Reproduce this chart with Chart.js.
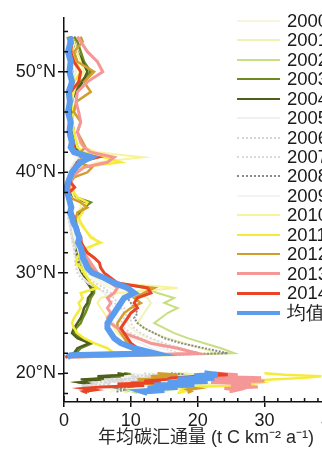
<!DOCTYPE html>
<html>
<head>
<meta charset="utf-8">
<script src="https://cdn.jsdelivr.net/npm/chart.js@4.4.1/dist/chart.umd.min.js"></script>
<style>
  html, body { margin: 0; padding: 0; background: #fff; overflow: hidden; }
  #wrap { position: relative; width: 348px; height: 454px; }
  #legend { position: absolute; left: 237px; top: 11px; font: 18.5px "Liberation Sans", Arial, sans-serif; color: #1a1a1a; }
  .item { height: 19.47px; display: flex; align-items: center; white-space: nowrap; }
  .item .line { display: inline-block; width: 43px; margin-right: 7px; }
</style>
</head>
<body>
<div id="wrap">
  <canvas id="chart" width="348" height="454"></canvas>
  <div id="legend"></div>
</div>
<script>
// latitude rows (°N); the null row splits the mainland block from the Hainan block
const lat = [53.5, 53, 52, 51, 50, 49, 48, 47, 46, 45,
  44, 43, 42.5, 42, 41.5, 41, 40.5, 40, 39.5, 39,
  38.5, 38, 37.5, 37, 36.5, 36, 35.5, 35, 34.5, 34,
  33.5, 33, 32.5, 32, 31.5, 31, 30.5, 30, 29.5, 29,
  28.5, 28, 27.5, 27, 26.5, 26, 25.5, 25, 24.5, 24,
  23.5, 23, 22.5, 22, 21.8, 21.6,
  20.7,
  20.0, 19.85, 19.7, 19.55, 19.4, 19.25, 19.1, 18.95, 18.8, 18.65, 18.5, 18.35, 18.2, 18.05];

// annual carbon sink flux per row (t C km-2 a-1)
const v2000 = [0.4, 0.7, 0.9, 1.1, 1.4, 1.0, 0.8, 0.6, 0.7, 0.6,
  0.7, 0.9, 1.1, 1.4, 2.2, 1.8, 1.3, 0.9, 0.7, 0.5,
  0.4, 0.5, 0.6, 0.8, 0.9, 0.8, 0.8, 1.0, 1.2, 1.2,
  1.4, 1.6, 1.8, 2.0, 2.2, 2.4, 2.6, 3.0, 3.8, 5.0,
  7.0, 8.5, 9.5, 10.0, 10.5, 10.0, 9.5, 9.5, 10.0, 11.0,
  12.5, 14.5, 16.5, 18.5, 9.0, 1.0,
  null,
  13, 15, 12, 14, 10, 12, 9, 10, 8, 9, 7, 8, 7, 7];
const v2001 = [0.6, 0.9, 1.1, 1.4, 1.8, 1.2, 0.9, 0.7, 0.9, 0.7,
  0.9, 1.1, 1.4, 1.8, 3.0, 2.2, 1.6, 1.1, 0.9, 0.6,
  0.5, 0.6, 0.7, 0.9, 1.1, 0.9, 0.9, 1.1, 1.3, 1.2,
  1.4, 1.7, 2.0, 2.2, 2.4, 2.7, 3.0, 3.6, 4.5, 6.0,
  9.0, 11.0, 12.5, 13.0, 12.5, 12.0, 11.5, 11.0, 12.0, 13.5,
  15.5, 18.0, 20.5, 23.0, 12.0, 1.5,
  null,
  15, 18, 14, 17, 13, 15, 11, 12.5, 10, 11, 9, 10, 9, 9.5];
const v2002 = [0.5, 0.8, 1.0, 1.2, 1.5, 1.0, 0.8, 0.6, 0.8, 0.6,
  0.8, 1.0, 1.2, 1.5, 2.5, 2.0, 1.5, 1.0, 0.8, 0.5,
  0.4, 0.5, 0.6, 0.8, 1.0, 0.8, 0.8, 1.0, 1.2, 1.0,
  1.2, 1.5, 1.8, 2.0, 2.2, 2.5, 2.8, 3.5, 5.0, 8.0,
  12.0, 14.0, 16.5, 15.0, 17.0, 15.5, 14.5, 13.5, 15.0, 16.5,
  18.5, 21.0, 23.5, 25.5, 16.0, 2.0,
  null,
  17, 19.5, 16, 18, 14, 16, 13, 14, 12, 13, 11, 12, 10, 11];
const v2003 = [1.5, 2.0, 2.5, 3.0, 4.0, 2.5, 1.5, 1.2, 1.0, 1.2,
  1.5, 1.8, 2.0, 2.2, 3.0, 2.5, 2.0, 1.5, 1.0, 0.8,
  1.0, 1.2, 1.8, 4.0, 3.0, 2.5, 2.0, 1.8, 2.0, 2.2,
  2.5, 2.5, 2.2, 2.0, 2.0, 2.2, 2.4, 2.8, 3.2, 3.8,
  4.5, 4.5, 4.0, 3.8, 3.5, 3.2, 2.8, 2.5, 1.8, 1.5,
  2.5, 4.2, 2.5, 1.8, 1.0, 0.5,
  null,
  9, 10.5, 6, 8.5, 3, 5.5, 2.5, 4, 3.5, 4.5, 3.5, 4, 3.5, 3.5];
const v2004 = [1.0, 1.5, 2.0, 2.8, 3.5, 2.8, 1.8, 1.0, 1.2, 1.0,
  1.2, 1.5, 1.8, 2.0, 2.5, 2.0, 1.8, 1.2, 0.8, 0.6,
  0.8, 1.0, 1.5, 3.5, 3.2, 2.2, 1.8, 1.6, 1.8, 2.0,
  2.2, 2.2, 2.0, 1.8, 1.8, 2.0, 2.2, 2.5, 3.0, 3.5,
  4.0, 4.2, 3.6, 3.5, 3.0, 2.8, 2.5, 2.0, 1.5, 1.2,
  2.0, 3.8, 2.0, 1.5, 0.8, 0.3,
  null,
  8, 9.5, 5, 7, 2.5, 4.5, 2.3, 3.5, 3, 4, 3, 3.5, 3, 3];
const v2005 = [0.5, 0.6, 0.8, 0.9, 1.1, 0.8, 0.6, 0.5, 0.6, 0.5,
  0.6, 0.7, 0.9, 1.1, 2.0, 1.5, 1.0, 0.7, 0.5, 0.4,
  0.3, 0.4, 0.5, 0.6, 0.7, 0.6, 0.7, 0.8, 0.9, 1.0,
  1.1, 1.2, 1.4, 1.5, 1.6, 1.8, 2.0, 2.3, 2.8, 3.6,
  5.0, 6.0, 6.5, 7.0, 7.5, 7.0, 7.0, 7.5, 8.0, 9.0,
  10.0, 11.5, 13.0, 15.0, 5.0, 0.5,
  null,
  10, 12, 9, 11, 6, 8, 4.5, 5.5, 3, 4.5, 3, 4, 3, 3.5];
const v2006 = [0.5, 0.8, 0.8, 1.0, 1.2, 0.9, 0.7, 0.6, 0.6, 0.7,
  0.6, 0.8, 1.0, 1.2, 2.5, 1.8, 1.2, 0.8, 0.6, 0.4,
  0.3, 0.4, 0.5, 0.6, 0.8, 0.7, 0.6, 0.8, 1.0, 1.0,
  1.2, 1.3, 1.5, 1.5, 1.8, 1.6, 1.8, 2.0, 2.5, 3.5,
  5.0, 6.5, 7.5, 8.0, 9.0, 9.5, 9.0, 8.5, 9.0, 10.0,
  11.5, 13.0, 15.0, 17.0, 6.0, 0.5,
  null,
  12, 14, 10, 12, 6, 9, 4, 5, 2.5, 4.5, 2.5, 3.5, 2.5, 3];
const v2007 = [0.7, 0.6, 1.0, 0.8, 1.4, 1.0, 0.6, 0.7, 0.5, 0.8,
  0.7, 0.9, 1.1, 1.4, 3.0, 2.0, 1.4, 0.9, 0.7, 0.5,
  0.4, 0.5, 0.6, 0.7, 0.9, 0.8, 0.7, 0.9, 1.1, 1.2,
  1.3, 1.5, 1.6, 1.8, 2.0, 2.2, 2.4, 2.8, 3.5, 4.5,
  6.0, 7.0, 6.5, 7.5, 8.5, 9.0, 10.0, 10.0, 10.5, 11.5,
  13.0, 15.0, 17.5, 20.0, 8.0, 0.5,
  null,
  14, 16, 12, 14, 8, 11, 6, 7, 3, 5, 3, 4, 3, 3.5];
const v2008 = [0.8, 1.0, 1.2, 1.0, 1.5, 1.2, 0.9, 0.8, 0.7, 0.9,
  0.8, 1.0, 1.2, 1.5, 3.5, 2.5, 1.5, 1.0, 0.8, 0.6,
  0.5, 0.6, 0.8, 1.0, 1.2, 1.0, 1.1, 1.3, 1.5, 1.7,
  2.0, 2.2, 2.4, 2.6, 3.0, 3.4, 3.8, 4.5, 5.5, 7.0,
  9.0, 10.0, 9.5, 10.0, 10.5, 11.0, 10.5, 11.0, 12.0, 13.5,
  15.0, 17.5, 21.0, 24.5, 12.0, 1.0,
  null,
  16, 19, 15, 17, 11, 14.5, 10, 12, 9, 10, 8, 9, 8, 8];
const v2009 = [0.6, 0.8, 1.0, 1.3, 1.6, 1.1, 0.8, 0.7, 0.8, 0.7,
  0.8, 1.0, 1.3, 1.6, 2.8, 2.0, 1.4, 1.0, 0.8, 0.6,
  0.5, 0.6, 0.7, 0.9, 1.0, 0.9, 0.9, 1.1, 1.3, 1.4,
  1.6, 1.8, 2.0, 2.2, 2.5, 2.8, 3.1, 3.6, 4.5, 6.0,
  8.0, 9.0, 8.5, 8.5, 8.0, 8.0, 8.0, 8.0, 8.5, 9.5,
  11.0, 12.5, 14.5, 16.5, 7.0, 0.5,
  null,
  18, 21, 17, 20, 15, 18, 13, 15, 12, 13, 11, 12, 10, 10];
const v2010 = [1.0, 1.5, 2.0, 2.5, 3.0, 2.0, 1.5, 1.2, 1.5, 1.0,
  1.5, 2.0, 3.0, 5.0, 11.8, 5.0, 3.0, 2.0, 1.5, 1.0,
  1.0, 1.2, 1.5, 2.5, 2.5, 2.0, 2.0, 2.2, 2.8, 3.5,
  4.5, 5.0, 4.0, 3.5, 3.0, 3.0, 3.0, 3.5, 5.0, 8.0,
  17.0, 8.0, 5.5, 5.0, 5.5, 6.0, 6.5, 7.0, 7.5, 8.0,
  9.0, 10.0, 11.0, 12.0, 3.0, 1.0,
  null,
  18, 20, 22, 24, 25, 26, 24, 22, 20, 18, 17, 16, 15, 15];
const v2011 = [0.5, 1.0, 1.5, 1.8, 2.5, 1.5, 1.2, 1.0, 1.5, 1.2,
  1.5, 1.8, 2.0, 3.0, 6.0, 8.5, 2.5, 2.0, 1.2, 1.0,
  1.2, 1.5, 2.0, 3.5, 3.0, 2.8, 2.2, 2.5, 3.0, 3.5,
  4.0, 5.5, 3.5, 2.5, 2.0, 1.8, 2.5, 3.0, 3.5, 4.0,
  5.0, 2.5, 2.8, 2.2, 2.5, 2.0, 1.5, 1.2, 1.5, 2.0,
  3.0, 4.5, 6.5, 7.5, 2.0, 0.8,
  null,
  30, 33, 38.5, 36, 31, 28, 29.5, 28, 27, 19, 18, 17.5, 18, 17];
const v2012 = [2.5, 2.8, 1.5, 2.0, 4.5, 3.0, 4.0, 1.8, 1.5, 2.5,
  2.0, 2.8, 3.2, 2.5, 3.0, 2.0, 4.2, 3.5, 1.5, 1.0,
  0.8, 0.6, 0.8, 2.5, 3.5, 2.0, 1.8, 1.6, 1.8, 2.0,
  2.2, 2.4, 2.6, 2.8, 3.2, 3.6, 4.0, 4.8, 5.5, 7.0,
  13.5, 12.0, 10.5, 11.5, 10.0, 9.0, 8.5, 8.0, 8.0, 8.5,
  9.0, 9.5, 10.0, 11.0, 2.0, 0.5,
  null,
  14, 17, 13, 16, 11, 14, 10, 13, 15, 18, 20, 18.5, 19, 18.5];
const v2013 = [2.0, 2.5, 3.5, 5.0, 5.8, 3.5, 2.0, 1.8, 2.2, 2.5,
  2.0, 2.5, 3.0, 4.0, 7.5, 6.5, 3.0, 2.0, 1.2, 1.0,
  0.8, 0.6, 0.8, 1.0, 1.2, 1.0, 1.2, 1.5, 2.0, 2.2,
  2.5, 2.5, 2.8, 3.0, 3.5, 4.0, 4.5, 5.0, 6.0, 7.0,
  8.0, 7.5, 6.5, 7.0, 6.5, 7.0, 6.5, 7.0, 8.0, 9.0,
  11.0, 13.0, 17.0, 20.0, 11.0, 1.0,
  null,
  23, 26, 21.5, 29.5, 21, 30, 22, 28, 25, 29, 24, 26, 25, 25];
const v2014 = [1.0, 1.2, 1.0, 1.5, 2.5, 2.2, 1.0, 0.8, 1.0, 0.8,
  1.0, 1.2, 1.5, 1.6, 5.0, 2.0, 1.5, 1.0, 0.8, 1.0,
  1.6, 0.8, 0.6, 0.8, 1.0, 1.2, 1.5, 1.5, 1.8, 2.2,
  2.5, 2.6, 3.0, 3.5, 4.5, 5.3, 5.5, 6.0, 7.0, 8.0,
  12.5, 13.0, 11.0, 10.5, 11.0, 10.0, 9.5, 9.0, 8.5, 9.0,
  9.5, 10.0, 11.0, 12.0, 1.0, 0.2,
  null,
  22.5, 24.5, 20, 16, 15.5, 12, 14.5, 8, 12, 5.5, 3, 4.5, 3, 3.5];
const vMean = [0.8, 1.0, 0.6, 1.0, 0.8, 1.2, 0.7, 0.9, 0.6, 1.0,
  0.8, 1.2, 1.0, 1.5, 4.0, 2.5, 1.8, 1.2, 0.9, 0.6,
  0.4, 0.5, 0.7, 0.9, 1.1, 0.9, 1.2, 1.4, 1.8, 2.0,
  2.3, 2.1, 2.5, 2.7, 2.8, 3.2, 3.5, 4.2, 6.0, 7.5,
  9.5, 10.5, 9.0, 8.5, 8.0, 7.5, 7.0, 6.5, 6.5, 7.0,
  7.5, 8.5, 10.5, 13.5, 1.0, 0.5,
  null,
  21, 23, 19.5, 22.5, 17, 21.5, 15.5, 19.5, 13.5, 17, 12.5, 15, 11.8, 12.5];

// axis ticks: labelled every 10, minor every 2
const xTicks = [0, 2, 4, 6, 8, 10, 12, 14, 16, 18, 20, 22, 24, 26, 28, 30, 32, 34, 36, 38, 40, 42];
const yTicks = [18, 20, 22, 24, 26, 28, 30, 32, 34, 36, 38, 40, 42, 44, 46, 48, 50, 52, 54];

const series = [
  { label: '2000', values: v2000, color: '#f7f6dc', width: 2 },
  { label: '2001', values: v2001, color: '#eef3b2', width: 2 },
  { label: '2002', values: v2002, color: '#c7df82', width: 2 },
  { label: '2003', values: v2003, color: '#6e8b22', width: 2.5 },
  { label: '2004', values: v2004, color: '#4e601c', width: 2.5 },
  { label: '2005', values: v2005, color: '#f1f1f1', width: 2 },
  { label: '2006', values: v2006, color: '#d6d6d6', width: 2, dash: [2, 2] },
  { label: '2007', values: v2007, color: '#d9d9d9', width: 2, dash: [2, 2] },
  { label: '2008', values: v2008, color: '#8a8a8a', width: 2, dash: [2, 1.5] },
  { label: '2009', values: v2009, color: '#f4f4f4', width: 2 },
  { label: '2010', values: v2010, color: '#f6f39a', width: 2 },
  { label: '2011', values: v2011, color: '#f5eb3a', width: 2.5 },
  { label: '2012', values: v2012, color: '#d29d2c', width: 2.5 },
  { label: '2013', values: v2013, color: '#f69797', width: 3 },
  { label: '2014', values: v2014, color: '#ea4426', width: 3 },
  { label: '均值', values: vMean, color: '#5b9cee', width: 6 }
];

const datasets = series.map((s, i) => ({
  label: s.label,
  data: lat.map((y, k) => s.values[k] === null ? { x: null, y: null } : { x: s.values[k], y }),
  showLine: true,
  borderColor: s.color,
  backgroundColor: s.color,
  borderWidth: s.width,
  borderDash: s.dash || [],
  pointRadius: 0,
  spanGaps: false,
  order: series.length - 1 - i
}));

// short inward tick marks along both axes
const innerTicks = {
  id: 'innerTicks',
  afterDraw(chart) {
    const { ctx, chartArea, scales: { x, y } } = chart;
    ctx.save();
    ctx.strokeStyle = '#111';
    ctx.lineWidth = 1.5;
    ctx.beginPath();
    x.ticks.forEach(t => {
      const px = x.getPixelForValue(t.value);
      const len = t.value % 10 === 0 ? 6 : 4;
      ctx.moveTo(px, chartArea.bottom);
      ctx.lineTo(px, chartArea.bottom - len);
    });
    y.ticks.forEach(t => {
      const py = y.getPixelForValue(t.value);
      ctx.moveTo(chartArea.left, py);
      ctx.lineTo(chartArea.left + 4, py);
    });
    ctx.stroke();
    ctx.restore();
  }
};

const font = '"Liberation Sans", Arial, sans-serif';
const majorColor = c => (c.tick && c.tick.value % 10 === 0) ? '#111' : 'rgba(0,0,0,0)';

new Chart(document.getElementById('chart'), {
  type: 'scatter',
  data: { datasets },
  options: {
    responsive: false,
    animation: false,
    layout: { padding: { top: 18, left: 0, right: 0, bottom: 0 } },
    plugins: { legend: { display: false }, tooltip: { enabled: false } },
    scales: {
      x: {
        type: 'linear',
        min: 0,
        max: 42.5,
        afterBuildTicks: s => { s.ticks = xTicks.map(v => ({ value: v })); },
        afterFit: s => { s.height = 52; },
        border: { color: '#111', width: 1.5, z: 1 },
        grid: { drawOnChartArea: false, tickLength: 5, lineWidth: 1.5, color: majorColor },
        ticks: {
          autoSkip: false, maxRotation: 0, padding: 3, color: '#1a1a1a',
          font: { family: font, size: 18 },
          callback: v => v % 10 === 0 ? String(v) : ''
        },
        title: {
          display: true,
          text: '年均碳汇通量 (t C km⁻² a⁻¹)',
          color: '#2a2a2a',
          font: { family: '"Liberation Sans", "Noto Sans CJK SC", sans-serif', size: 18 },
          padding: { top: 0, bottom: 5 }
        }
      },
      y: {
        type: 'linear',
        min: 17.15,
        max: 55.35,
        afterBuildTicks: s => { s.ticks = yTicks.map(v => ({ value: v })); },
        afterFit: s => { s.width = 64; },
        border: { color: '#111', width: 1.5, z: 1 },
        grid: { drawOnChartArea: false, tickLength: 6, lineWidth: 1.5, color: majorColor },
        ticks: {
          autoSkip: false, padding: 2, color: '#1a1a1a',
          font: { family: font, size: 18 },
          callback: v => v % 10 === 0 ? v + '°N' : ''
        }
      }
    }
  },
  plugins: [innerTicks]
});

// legend drawn over the right part of the plot, as in the figure
const legend = document.getElementById('legend');
series.forEach(s => {
  const item = document.createElement('div');
  item.className = 'item';
  const line = document.createElement('span');
  line.className = 'line';
  line.style.borderTop = `${Math.min(s.width, 4)}px ${s.dash ? 'dotted' : 'solid'} ${s.color}`;
  const text = document.createElement('span');
  text.textContent = s.label;
  item.appendChild(line);
  item.appendChild(text);
  legend.appendChild(item);
});
</script>
</body>
</html>
